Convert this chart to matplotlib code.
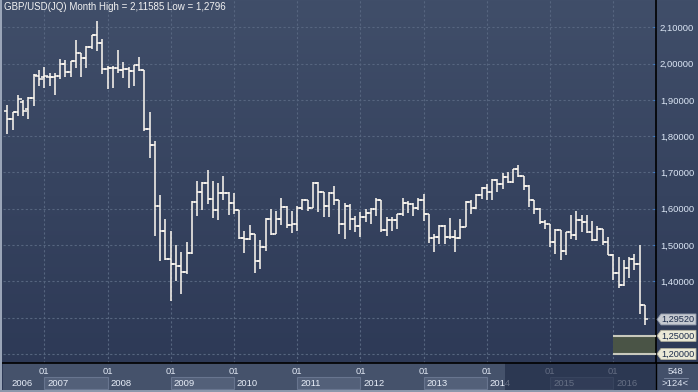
import matplotlib.pyplot as plt
import matplotlib.patches as mpatches
import matplotlib.transforms as mtransforms
import numpy as np

plt.rcParams['font.family'] = ['Liberation Sans', 'DejaVu Sans']

# GBP/USD monthly bars, first bar = June 2006, last = July 2016
first_year, first_month = 2006, 6
opens = [1.870, 1.847, 1.867, 1.895, 1.874, 1.905, 1.966,
         1.963, 1.962, 1.962, 1.966, 1.999, 1.978, 2.006, 2.029, 2.015, 2.045, 2.080, 2.056,
         1.985, 1.987, 1.987, 1.982, 1.985, 1.980, 1.995, 1.982, 1.820, 1.777, 1.607, 1.540,
         1.461, 1.448, 1.442, 1.427, 1.478, 1.619, 1.647, 1.671, 1.628, 1.598, 1.644, 1.644,
         1.617, 1.598, 1.519, 1.517, 1.531, 1.455, 1.495, 1.572, 1.531, 1.573, 1.604, 1.556,
         1.557, 1.603, 1.625, 1.603, 1.671, 1.646, 1.607, 1.644, 1.625, 1.557, 1.608, 1.571,
         1.552, 1.577, 1.589, 1.600, 1.623, 1.541, 1.570, 1.570, 1.587, 1.617, 1.614, 1.602,
         1.625, 1.585, 1.519, 1.522, 1.553, 1.522, 1.522, 1.520, 1.550, 1.619, 1.603, 1.637,
         1.657, 1.646, 1.680, 1.668, 1.688, 1.674, 1.709, 1.690, 1.662, 1.624, 1.600, 1.564,
         1.559, 1.509, 1.541, 1.484, 1.536, 1.529, 1.570, 1.564, 1.536, 1.513, 1.545, 1.509,
         1.474, 1.424, 1.391, 1.437, 1.461, 1.449, 1.334]
highs = [1.886, 1.868, 1.914, 1.900, 1.908, 1.971, 1.982,
         1.991, 1.975, 1.975, 2.014, 2.010, 2.008, 2.065, 2.030, 2.049, 2.080, 2.116, 2.068,
         1.993, 1.994, 2.037, 2.005, 1.992, 1.996, 2.017, 1.983, 1.868, 1.787, 1.639, 1.573,
         1.538, 1.500, 1.481, 1.508, 1.621, 1.676, 1.674, 1.706, 1.676, 1.671, 1.689, 1.646,
         1.644, 1.598, 1.538, 1.554, 1.531, 1.513, 1.575, 1.600, 1.595, 1.631, 1.607, 1.593,
         1.607, 1.628, 1.625, 1.674, 1.674, 1.646, 1.646, 1.662, 1.625, 1.617, 1.614, 1.579,
         1.591, 1.600, 1.603, 1.631, 1.623, 1.577, 1.577, 1.587, 1.631, 1.621, 1.615, 1.631,
         1.640, 1.585, 1.531, 1.556, 1.556, 1.576, 1.542, 1.573, 1.621, 1.623, 1.640, 1.660,
         1.668, 1.683, 1.681, 1.698, 1.700, 1.711, 1.720, 1.690, 1.665, 1.625, 1.603, 1.568,
         1.559, 1.545, 1.541, 1.536, 1.582, 1.593, 1.582, 1.582, 1.566, 1.552, 1.545, 1.522,
         1.476, 1.467, 1.460, 1.466, 1.476, 1.501, 1.334]
lows = [1.807, 1.816, 1.857, 1.856, 1.848, 1.882, 1.939,
        1.934, 1.937, 1.914, 1.957, 1.964, 1.962, 1.988, 1.962, 1.988, 2.040, 2.034, 1.971,
        1.931, 1.934, 1.973, 1.960, 1.934, 1.937, 1.980, 1.815, 1.741, 1.524, 1.455, 1.458,
        1.347, 1.402, 1.366, 1.420, 1.476, 1.580, 1.598, 1.614, 1.575, 1.570, 1.625, 1.582,
        1.585, 1.517, 1.478, 1.515, 1.423, 1.435, 1.485, 1.529, 1.531, 1.556, 1.547, 1.534,
        1.540, 1.598, 1.593, 1.603, 1.592, 1.577, 1.577, 1.611, 1.530, 1.518, 1.542, 1.536,
        1.522, 1.564, 1.559, 1.580, 1.536, 1.525, 1.539, 1.544, 1.580, 1.588, 1.579, 1.598,
        1.566, 1.506, 1.481, 1.502, 1.502, 1.518, 1.481, 1.516, 1.550, 1.585, 1.600, 1.628,
        1.623, 1.624, 1.647, 1.655, 1.670, 1.670, 1.688, 1.653, 1.605, 1.585, 1.559, 1.545,
        1.495, 1.476, 1.458, 1.472, 1.518, 1.513, 1.536, 1.533, 1.511, 1.511, 1.499, 1.474,
        1.403, 1.383, 1.386, 1.410, 1.432, 1.311, 1.2796]
closes = [1.847, 1.867, 1.902, 1.870, 1.906, 1.968, 1.957,
          1.966, 1.962, 1.966, 1.999, 1.978, 2.006, 2.029, 2.015, 2.045, 2.080, 2.056, 1.985,
          1.989, 1.987, 1.982, 1.985, 1.980, 1.995, 1.982, 1.820, 1.777, 1.607, 1.540, 1.461,
          1.448, 1.442, 1.427, 1.478, 1.619, 1.647, 1.671, 1.628, 1.598, 1.644, 1.644, 1.617,
          1.598, 1.519, 1.517, 1.531, 1.455, 1.495, 1.572, 1.531, 1.573, 1.604, 1.556, 1.557,
          1.603, 1.625, 1.603, 1.671, 1.646, 1.607, 1.644, 1.625, 1.557, 1.608, 1.571, 1.552,
          1.577, 1.589, 1.600, 1.623, 1.541, 1.570, 1.570, 1.587, 1.617, 1.614, 1.602, 1.625,
          1.585, 1.519, 1.522, 1.553, 1.522, 1.522, 1.520, 1.550, 1.619, 1.603, 1.637, 1.657,
          1.646, 1.680, 1.668, 1.688, 1.674, 1.709, 1.690, 1.662, 1.624, 1.600, 1.564, 1.559,
          1.509, 1.541, 1.484, 1.536, 1.529, 1.570, 1.564, 1.536, 1.513, 1.545, 1.509, 1.474,
          1.424, 1.391, 1.437, 1.461, 1.449, 1.334, 1.2952]

price_ticks = [1.4, 1.5, 1.6, 1.7, 1.8, 1.9, 2.0, 2.1]
grid_levels = [1.2, 1.3, 1.4, 1.5, 1.6, 1.7, 1.8, 1.9, 2.0, 2.1]
years = list(range(2006, 2017))
last_price = 1.2952
band_low, band_high = 1.20, 1.25
title = "GBP/USD(JQ) Month High = 2,11585 Low = 1,2796"
corner_top, corner_bottom = "548", ">124<"

W, H = 698, 392
def fx(px):
    return px / W
def fy(py):
    return 1 - py / H

fig = plt.figure(figsize=(W / 100, H / 100), dpi=100)

# background gradient
bg = fig.add_axes([0, 0, 1, 1], zorder=0)
grad = np.linspace(0, 1, 256).reshape(-1, 1)
top_c = np.array([64, 78, 105]) / 255
bot_c = np.array([44, 56, 85]) / 255
img = top_c + (bot_c - top_c) * grad[:, :, None]
bg.imshow(img, aspect='auto', extent=[0, 1, 0, 1])
bg.axis('off')

x0, x1 = 2006.3467, 2016.671
ax = fig.add_axes([fx(3), fy(363), fx(655.7) - fx(3), 363 / H], zorder=2)
ax.patch.set_visible(False)
ax.set_xlim(x0, x1)
ax.set_ylim(1.1752, 2.1752)

gcol = '#56657f'
for g in grid_levels:
    ax.axhline(g, color=gcol, lw=0.8, ls=(0, (2, 2)), zorder=1)
for yr in years[1:]:
    ax.axvline(yr, color=gcol, lw=0.8, ls=(0, (2, 2)), zorder=1)

# band between 1.20 and 1.25
ax.add_patch(mpatches.Rectangle((2016.0, band_low), x1 - 2016.0, band_high - band_low,
                                facecolor='#4a5446', edgecolor='none', zorder=2))
for lv in (band_low, band_high):
    ax.plot([2016.0, x1], [lv, lv], color='#c9c9bd', lw=1.5, zorder=3, solid_capstyle='butt')

# OHLC bars
n = len(opens)
xs = first_year + (first_month - 1 + np.arange(n)) / 12
d = 0.056
bar_c = '#fffaf2'
ax.vlines(xs, lows, highs, color=bar_c, lw=1.1, zorder=4)
ax.hlines(opens, xs - d, xs, color=bar_c, lw=1.1, zorder=4)
ax.hlines(closes, xs, xs + d, color=bar_c, lw=1.1, zorder=4)

# axes styling
for s in ('top', 'bottom', 'left'):
    ax.spines[s].set_visible(False)
ax.spines['right'].set_color('black')
ax.spines['right'].set_linewidth(1.2)
ax.set_xticks([])
ax.yaxis.tick_right()
ax.set_yticks(price_ticks)
ax.set_yticklabels([f"{v:.5f}".replace('.', ',') for v in price_ticks])
ax.tick_params(axis='y', direction='in', length=2, color='#3d7fd0', pad=3,
               labelsize=6.8, labelcolor='#dce6f5')

# price tags on right axis
tr = mtransforms.blended_transform_factory(fig.transFigure, ax.transData)
def tag(val, fc, ec):
    h = 5.5 / 363
    xa, xb, xc = fx(657), fx(661), fx(696)
    poly = mpatches.Polygon([(xa, val), (xb, val + h), (xc, val + h), (xc, val - h), (xb, val - h)],
                            closed=True, transform=tr, facecolor=fc, edgecolor=ec, lw=0.6, zorder=5)
    fig.add_artist(poly)
    fig.text(fx(661), 0, f"{val:.5f}".replace('.', ','), transform=tr, fontsize=6.6,
             color='#1b2b4a', va='center', ha='left', zorder=6).set_y(val)

tag(last_price, '#c5c9d0', '#8a93a5')
tag(band_high, '#ebe9d6', '#b5b3a0')
tag(band_low, '#ebe9d6', '#b5b3a0')

# bottom date strip
sx = fig.add_axes([fx(3), 0, fx(655.7) - fx(3), 29 / H], zorder=3)
sx.set_facecolor('#45526b')
sx.set_xlim(x0, x1)
sx.set_ylim(0, 29)
sx.set_xticks([])
sx.set_yticks([])
for s in sx.spines.values():
    s.set_visible(False)
for yr in years:
    if yr % 2 == 1:
        sx.add_patch(mpatches.Rectangle((yr, 3), 1, 12.3, facecolor='#536079',
                                        edgecolor='#68758f', lw=0.8, zorder=1))
    if yr == years[0]:
        sx.text(x0 + 8 / 63.22, 9, str(yr), fontsize=6.8, color='#e8eef8', va='center', ha='left', zorder=2)
    else:
        sx.text(yr + 3 / 63.22, 9, str(yr), fontsize=6.8, color='#e8eef8', va='center', ha='left', zorder=2)
        sx.text(yr, 20.5, "01", fontsize=6.8, color='#dfe6f2', va='center', ha='center', zorder=2)
ov = 2007 + (505 - 44.3) / 63.22
sx.add_patch(mpatches.Rectangle((ov, 0), x1 - ov, 29, facecolor='#1f2a45', alpha=0.65,
                                edgecolor='none', zorder=3))

# corner box and borders
fig.add_artist(mpatches.Rectangle((fx(656), 0), 1 - fx(656), 29 / H, transform=fig.transFigure,
                                  facecolor='#43506a', edgecolor='none', zorder=3))
fig.add_artist(plt.Line2D([fx(664), fx(688)], [fy(377.5), fy(377.5)], color='#7d8aa3', lw=0.6, zorder=4))
fig.text(fx(676), fy(371.5), corner_top, fontsize=6.8, color='#dfe6f2', ha='center', va='center', zorder=5)
fig.text(fx(675), fy(384), corner_bottom, fontsize=6.8, color='#dfe6f2', ha='center', va='center', zorder=5)
fig.add_artist(plt.Line2D([0, 1], [fy(363), fy(363)], color='black', lw=1.2, zorder=6))
fig.add_artist(plt.Line2D([fx(655.7), fx(655.7)], [fy(363), 0], color='black', lw=1.0, zorder=6))
fig.add_artist(mpatches.Rectangle((0, 0), fx(2), 1, transform=fig.transFigure,
                                  facecolor='#9aa5b8', edgecolor='none', zorder=6))
fig.add_artist(mpatches.Rectangle((0, 0), 1, 2 / H, transform=fig.transFigure,
                                  facecolor='#8c97ab', edgecolor='none', zorder=6))

fig.text(fx(4), fy(7.5), title, fontsize=7, color='#f2f2f2', va='center', ha='left', zorder=6)

fig.savefig('out.png', dpi=100)
